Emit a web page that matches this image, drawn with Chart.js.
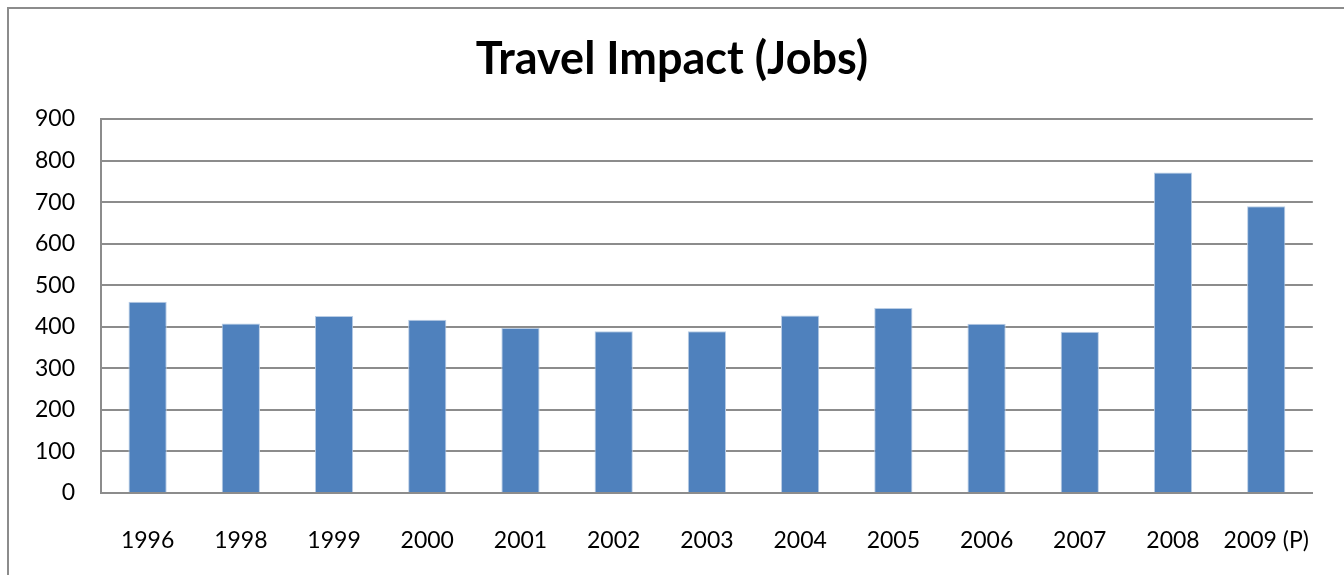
<!DOCTYPE html>
<html>
<head>
<meta charset="utf-8">
<script src="https://cdn.jsdelivr.net/npm/chart.js@4"></script>
<style>
    html, body { margin: 0; padding: 0; background: #fff; }
    #wrap { position: relative; width: 1344px; height: 575px; overflow: hidden; }
    #frame { position: absolute; left: 7px; top: 7px; width: 1400px; height: 600px; border-left: 2px solid #8c8c8c; border-top: 2px solid #8c8c8c; }
    canvas { position: absolute; left: 0; top: 0; }
</style>
</head>
<body>
<div id="wrap">
    <div id="frame"></div>
    <canvas id="chart" width="1344" height="575"></canvas>
</div>
<script>
const years = ['1996', '1998', '1999', '2000', '2001', '2002', '2003', '2004', '2005', '2006', '2007', '2008', '2009 (P)'];
const jobs = [460, 408, 426, 417, 397, 389, 389, 427, 445, 407, 388, 771, 690];
const yTicks = [0, 100, 200, 300, 400, 500, 600, 700, 800, 900];

const fontFamily = 'Lato, "Open Sans", sans-serif';

document.addEventListener('DOMContentLoaded', function() {
    const ctx = document.getElementById('chart').getContext('2d');

    new Chart(ctx, {
        type: 'bar',
        data: {
            labels: years,
            datasets: [{
                label: 'Jobs',
                data: jobs,
                backgroundColor: '#4f81bd',
                borderColor: '#b9cde5',
                borderWidth: 1,
                barPercentage: 0.41,
                categoryPercentage: 1
            }]
        },
        options: {
            responsive: false,
            animation: false,
            layout: {
                // left padding balances the right one so the title sits centred
                padding: { left: 29, right: 29, top: 0, bottom: 0 }
            },
            plugins: {
                legend: { display: false },
                tooltip: { enabled: false },
                title: {
                    display: true,
                    text: 'Travel Impact (Jobs)',
                    color: '#000',
                    font: { family: fontFamily, size: 45, weight: 'bold', lineHeight: 1.2 },
                    padding: { top: 32, bottom: 33 }
                }
            },
            scales: {
                x: {
                    grid: { display: false, drawTicks: false },
                    border: { display: true, color: '#8c8c8c', width: 2 },
                    ticks: {
                        color: '#000',
                        font: { family: fontFamily, size: 23 },
                        padding: 34,
                        maxRotation: 0,
                        autoSkip: false
                    },
                    afterFit: function(scale) { scale.height = 82; }
                },
                y: {
                    min: 0,
                    max: 900,
                    afterBuildTicks: function(scale) {
                        scale.ticks = yTicks.map(v => ({ value: v }));
                    },
                    grid: { color: '#8c8c8c', lineWidth: 2, drawTicks: false },
                    border: { display: true, color: '#8c8c8c', width: 2 },
                    ticks: {
                        color: '#000',
                        font: { family: fontFamily, size: 23 },
                        padding: 26
                    },
                    afterFit: function(scale) { scale.width = 72; }
                }
            }
        }
    });
});
</script>
</body>
</html>
